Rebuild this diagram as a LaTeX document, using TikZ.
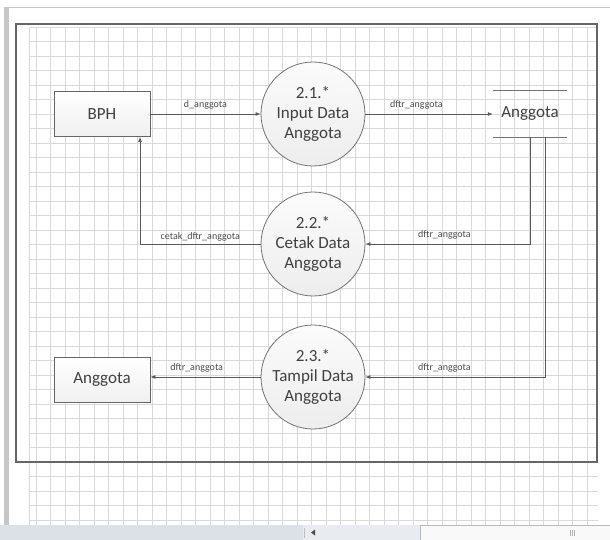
\documentclass[tikz,border=0pt]{standalone}
\usepackage{fontspec}
\setmainfont{Carlito}
\usepackage{xcolor}
\usepackage{tikz}
\usetikzlibrary{positioning,arrows.meta}

\definecolor{garisgrid}{HTML}{D9D9D9}
\definecolor{panel}{HTML}{DCE1E7}
\definecolor{panelterang}{HTML}{E8EBEF}
\definecolor{teksabu}{HTML}{404040}

\begin{document}
\begin{tikzpicture}[x=1pt,y=-1pt,
		proses/.style={circle,draw=black!55,line width=0.8pt,top color=gray!3,bottom color=gray!14,
			minimum size=104pt,inner sep=0pt,align=center,text=teksabu,font=\fontsize{17}{20}\selectfont},
		entitas/.style={rectangle,draw=black!60,line width=0.8pt,top color=white,bottom color=gray!12,
			minimum width=96pt,minimum height=45pt,text=teksabu,font=\fontsize{17}{20}\selectfont},
		simpan/.style={minimum width=74pt,minimum height=46pt,inner sep=0pt,text=teksabu,font=\fontsize{17}{20}\selectfont},
		alir/.style={draw=black!65,line width=0.8pt,-{Latex[length=5pt,width=4pt]}},
		ket/.style={text=black!70,inner sep=1pt,font=\fontsize{10}{12}\selectfont}]
				\useasboundingbox (0,0) rectangle (610,540);
				\fill[white] (0,0) rectangle (610,540);
				
				\foreach \gx in {29,36,50.5,...,598}
					\draw[garisgrid,line width=0.6pt] (\gx,27) -- (\gx,525);
				\foreach \gy in {27,41.5,...,525}
					\draw[garisgrid,line width=0.6pt] (29,\gy) -- (598,\gy);
				
				\draw[gray!45,line width=1pt] (4,8) -- (610,8);
				\fill[gray!45] (4,8) rectangle (9,525);
				\draw[black!60,line width=1.1pt] (16,24) rectangle (597,462);
				
				\fill[panel] (0,525) rectangle (303,540);
				\fill[panelterang] (303,525) rectangle (420,540);
				\draw[gray!50] (304,528) -- (304,538);
				\fill[black!70] (311,532.5) -- (315,529.5) -- (315,535.5) -- cycle;
				\draw[gray!55,fill=gray!5] (420,525.5) rectangle (612,541);
				\draw[gray!60] (570,530) -- (570,536) (572,530) -- (572,536) (574,530) -- (574,536);
				
				\node[entitas] (bph) at (102,114) {BPH};
				\node[proses] (p1) at (313,114) {2.1.*\\Input Data\\Anggota};
				\node[proses] (p2) at (313,244) {2.2.*\\Cetak Data\\Anggota};
				\node[proses] (p3) at (313,377) {2.3.*\\Tampil Data\\Anggota};
				\node[entitas] (agt) at (102,380) {Anggota};
				\node[simpan] (ds) at (530,114) {Anggota};
				\draw[black!55,line width=0.8pt] (ds.north west) -- (ds.north east);
				\draw[black!55,line width=0.8pt] (ds.south west) -- (ds.south east);
				
				\draw[alir] (bph) -- node[ket,above=3pt] {d\_anggota} (p1);
				\draw[alir] (p1) -- node[ket,above=3pt,pos=0.4] {dftr\_anggota} (ds);
				\draw[alir] (ds.south) |- node[ket,above=3pt,pos=0.76] {dftr\_anggota} (p2);
				\draw[alir] ([xshift=15pt]ds.south) |- node[ket,above=3pt,pos=0.78] {dftr\_anggota} (p3);
				\draw[alir] (p2) -| node[ket,above=1pt,pos=0.25] {cetak\_dftr\_anggota} ([xshift=38pt]bph.south);
				\draw[alir] (p3) -- node[ket,above=3pt,pos=0.58] {dftr\_anggota} (p3 -| agt.east);
\end{tikzpicture}
\end{document}
